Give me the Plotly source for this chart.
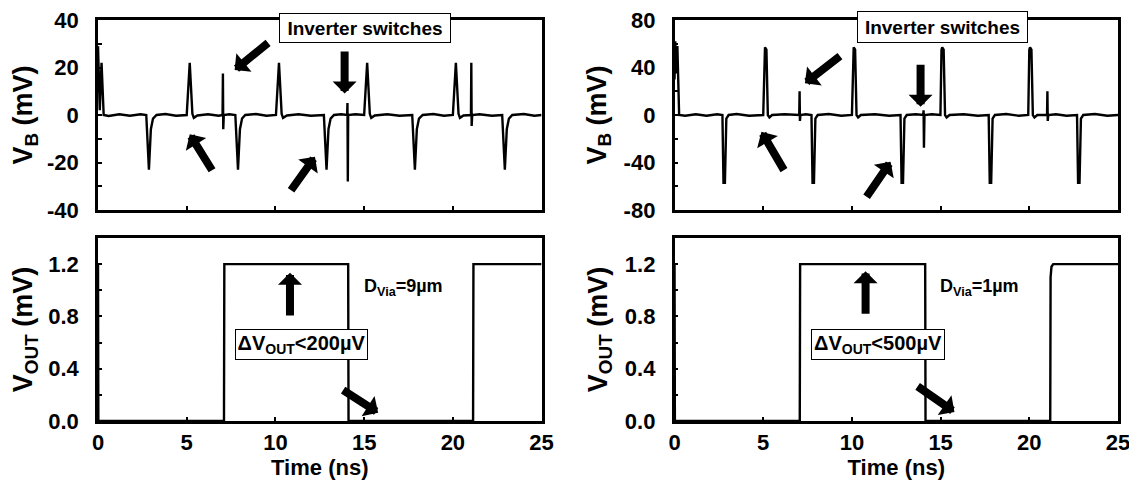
import plotly.graph_objects as go

# ---------------- data ----------------
# Left column (D_Via = 9 um): substrate noise V_B (mV) vs time (ns)
t_vb_left = [0, 0.1, 0.2, 0.32, 0.6, 1.2, 1.8, 2.4,
             2.72, 2.87, 2.98, 3.1, 3.3, 3.8, 4.4,
             5.0, 5.17, 5.32, 5.4, 5.6, 6.2, 6.8,
             7.02, 7.04, 7.06, 7.09, 7.4,
             7.74, 7.89, 8.0, 8.12, 8.3, 8.9, 9.5,
             10.03, 10.2, 10.35, 10.43, 10.65, 11.3, 12.0,
             12.73, 12.88, 12.99, 13.11, 13.3, 13.7,
             14.04, 14.06, 14.08, 14.1, 14.5,
             15.0, 15.17, 15.32, 15.4, 15.6, 16.3, 17.0,
             17.71, 17.86, 17.97, 18.09, 18.3, 18.9, 19.5,
             20.0, 20.17, 20.32, 20.4, 20.6,
             21.02, 21.04, 21.06, 21.09, 21.5, 22.2,
             22.78, 22.93, 23.04, 23.16, 23.35, 24.0, 24.6, 25.0]
v_vb_left = [29, 2, 22, 0, -0.4, 0.3, -0.3, 0.3,
             0, -23, -6, -1.5, 0, 0.4, -0.3,
             0, 22, 0.5, -1.2, -0.2, 0.3, -0.3,
             0, 17.5, -6, 0, 0.3,
             0, -23, -6, -1.5, 0, 0.4, -0.3,
             0, 22, 0.5, -1.2, -0.2, 0.3, -0.3,
             0, -23, -6, -1.5, 0, 0.3,
             0, 5, -28, 0, 0.3,
             0, 22, 0.5, -1.2, -0.2, 0.3, -0.3,
             0, -23, -6, -1.5, 0, 0.4, -0.3,
             0, 22, 0.5, -1.2, -0.2,
             0, 22, -4.6, 0, 0.3, -0.3,
             0, -23, -6, -1.5, 0, 0.4, -0.3, 0]

# Right column (D_Via = 1 um)
t_vb_right = [0, 0.04, 0.1, 0.16, 0.26, 0.6, 1.2, 1.8, 2.4,
              2.7, 2.76, 2.84, 2.92, 3.05, 3.5, 4.2,
              5.0, 5.06, 5.1, 5.18, 5.26, 5.35, 5.5, 6.2,
              7.03, 7.05, 7.07, 7.1, 7.4,
              7.72, 7.78, 7.86, 7.94, 8.07, 8.7, 9.4,
              10.0, 10.06, 10.1, 10.18, 10.26, 10.35, 10.5, 11.3, 12.1,
              12.74, 12.8, 12.88, 12.96, 13.09, 13.6,
              14.02, 14.04, 14.06, 14.09, 14.5,
              14.99, 15.05, 15.09, 15.17, 15.25, 15.34, 15.5, 16.3, 17.1,
              17.71, 17.77, 17.85, 17.93, 18.06, 18.7, 19.4,
              19.94, 20.0, 20.04, 20.12, 20.2, 20.29, 20.45,
              21.0, 21.02, 21.04, 21.07, 21.5, 22.1,
              22.69, 22.75, 22.83, 22.91, 23.04, 23.7, 24.4, 25.0]
v_vb_right = [30, 62, 35, 58, 0, -0.6, 0.6, -0.6, 0.6,
              0, -57, -57, -3, 0, 0.8, -0.6,
              0, 55, 57, 55, 0, -2, 0, 0.6,
              0, 20, -5, 0, 0.6,
              0, -57, -57, -3, 0, 0.8, -0.6,
              0, 55, 57, 55, 0, -2, 0, 0.6, -0.6,
              0, -57, -57, -3, 0, 0.6,
              0, 4, -27.5, 0, 0.6,
              0, 55, 57, 55, 0, -2, 0, 0.6, -0.6,
              0, -57, -57, -3, 0, 0.8, -0.6,
              0, 55, 57, 55, 0, -2, 0,
              0, 20, -5, 0, 0.6, -0.6,
              0, -57, -57, -3, 0, 0.8, -0.6, 0]

# Output voltage V_OUT (mV) vs time (ns)
t_out_left = [0, 0.02, 7.1, 7.12, 14.1, 14.12, 21.14, 21.16, 25.0]
v_out_left = [1.2, 0, 0, 1.2, 1.2, 0, 0, 1.2, 1.2]
t_out_right = [0, 0.02, 7.06, 7.08, 14.13, 14.15, 21.18, 21.2, 21.25, 21.35, 25.0]
v_out_right = [1.2, 0, 0, 1.2, 1.2, 0, 0, 1.1, 1.18, 1.2, 1.2]

# tick labels
x_ticks = [0, 5, 10, 15, 20, 25]
x_ticktext = ["0", "5", "10", "15", "20", "25"]
vb_left_ticks = [-40, -20, 0, 20, 40]
vb_left_ticktext = ["-40", "-20", "0", "20", "40"]
vb_right_ticks = [-80, -40, 0, 40, 80]
vb_right_ticktext = ["-80", "-40", "0", "40", "80"]
out_ticks = [0, 0.4, 0.8, 1.2]
out_ticktext = ["0.0", "0.4", "0.8", "1.2"]

# ---------------- figure ----------------
FONT = "Liberation Sans"
line = dict(color="black", width=2.4)

fig = go.Figure()
fig.add_trace(go.Scatter(x=t_vb_left, y=v_vb_left, mode="lines", line=line, xaxis="x", yaxis="y"))
fig.add_trace(go.Scatter(x=t_out_left, y=v_out_left, mode="lines", line=line, xaxis="x2", yaxis="y2"))
fig.add_trace(go.Scatter(x=t_vb_right, y=v_vb_right, mode="lines", line=line, xaxis="x3", yaxis="y3"))
fig.add_trace(go.Scatter(x=t_out_right, y=v_out_right, mode="lines", line=line, xaxis="x4", yaxis="y4"))

W, H = 1137, 482
OFF = 8  # page body margin
ML = 98 - OFF
MT = 20 - OFF
MB = H - (421 - OFF)
MR = W - (1118.3 - OFF)
PW, PH = W - ML - MR, H - MT - MB

def fx(px):
    return (px - OFF - ML) / PW

def fy(py):
    return (H - MB - (py - OFF)) / PH

dom_left = [0, fx(541.7)]
dom_right = [fx(674.7), 1]
dom_top = [fy(210), 1]
dom_bot = [0, fy(238)]

tickfont = dict(family=FONT, size=22, color="black", weight="bold")
xtitlefont = dict(family=FONT, size=22, color="black", weight="bold")
ytitlefont = dict(family=FONT, size=27, color="black", weight="bold")

def xax(domain, anchor, labels):
    d = dict(domain=domain, anchor=anchor, range=[0, 25], tickvals=x_ticks, ticktext=x_ticktext,
             ticks="inside", ticklen=4, tickwidth=1.5, tickcolor="black",
             showline=True, linewidth=2.5, linecolor="black", mirror=True,
             showgrid=False, zeroline=False, showticklabels=labels, tickfont=tickfont,
             ticklabelstandoff=0, ticklabeloverflow="allow")
    if labels:
        d["title"] = dict(text="Time (ns)", font=xtitlefont, standoff=0)
    return d

def yax(domain, anchor, rng, tv, tt, minor, title):
    return dict(domain=domain, anchor=anchor, range=rng, tickvals=tv, ticktext=tt,
                ticks="inside", ticklen=4, tickwidth=1.5, tickcolor="black",
                minor=dict(dtick=minor, tick0=0, ticks="inside", ticklen=4, tickwidth=1.5, tickcolor="black"),
                showline=True, linewidth=2.5, linecolor="black", mirror=True,
                showgrid=False, zeroline=False, tickfont=tickfont, ticklabelstandoff=12,
                ticklabeloverflow="allow",
                title=dict(text=title, font=ytitlefont, standoff=10))

fig.update_layout(
    width=W, height=H, margin=dict(l=ML, r=MR, t=MT, b=MB, autoexpand=False),
    paper_bgcolor="white", plot_bgcolor="white", showlegend=False,
    xaxis=xax(dom_left, "y", False),
    yaxis=yax(dom_top, "x", [-40, 40], vb_left_ticks, vb_left_ticktext, 10, "V<sub>B</sub> (mV)"),
    xaxis2=xax(dom_left, "y2", True),
    yaxis2=yax(dom_bot, "x2", [0, 1.4], out_ticks, out_ticktext, 0.2, "V<sub>OUT</sub> (mV)"),
    xaxis3=xax(dom_right, "y3", False),
    yaxis3=yax(dom_top, "x3", [-80, 80], vb_right_ticks, vb_right_ticktext, 20, "V<sub>B</sub> (mV)"),
    xaxis4=xax(dom_right, "y4", True),
    yaxis4=yax(dom_bot, "x4", [0, 1.4], out_ticks, out_ticktext, 0.2, "V<sub>OUT</sub> (mV)"),
)

def afont(size):
    return dict(family=FONT, size=size, color="black", weight="bold")

def box(xr, yr, x, y, text, w, h, size):
    fig.add_annotation(xref=xr, yref=yr, x=x, y=y, text=text, showarrow=False, font=afont(size),
                       bgcolor="white", bordercolor="black", borderwidth=1, borderpad=2,
                       width=w - 6, height=h - 6, align="center", valign="middle")

def label(xr, yr, x, y, text):
    fig.add_annotation(xref=xr, yref=yr, x=x, y=y, text=text, showarrow=False, font=afont(18))

def arrow(xr, yr, x0, y0, x1, y1):
    fig.add_annotation(xref=xr, yref=yr, axref=xr, ayref=yr, x=x1, y=y1, ax=x0, ay=y0, text="",
                       showarrow=True, arrowhead=1, arrowwidth=8, arrowsize=0.5, arrowcolor="black",
                       standoff=0, startstandoff=0)

# left top
box("x", "y", 15.04, 36.8, "Inverter switches", 172, 30, 19)
box("x", "y", 8.42, -44.2, "TSV switches", 139, 30, 18)
arrow("x", "y", 9.67, 30.9, 7.7, 18.9)
arrow("x", "y", 13.9, 27.4, 13.9, 9.1)
arrow("x", "y", 6.48, -23.9, 5.17, -8.1)
arrow("x", "y", 10.82, -32.3, 12.23, -17.6)
# left bottom
label("x2", "y2", 17.2, 1.02, "D<sub>Via</sub>=9µm")
box("x2", "y2", 11.48, 0.585, "ΔV<sub>OUT</sub>&lt;200µV", 133, 31, 20)
arrow("x2", "y2", 10.82, 0.795, 10.82, 1.135)
arrow("x2", "y2", 13.73, 0.243, 15.79, 0.064)
# right top
box("x3", "y3", 15.12, 73.7, "Inverter switches", 171, 32, 19)
box("x3", "y3", 8.4, -89.5, "TSV switches", 137, 31, 18)
arrow("x3", "y3", 9.41, 50.5, 7.35, 26.7)
arrow("x3", "y3", 13.87, 43.5, 13.87, 7.0)
arrow("x3", "y3", 6.22, -47.7, 4.9, -14.1)
arrow("x3", "y3", 10.77, -70.2, 12.18, -39.3)
# right bottom
label("x4", "y4", 17.2, 1.02, "D<sub>Via</sub>=1µm")
box("x4", "y4", 11.45, 0.585, "ΔV<sub>OUT</sub>&lt;500µV", 134, 31, 20)
arrow("x4", "y4", 10.77, 0.809, 10.77, 1.146)
arrow("x4", "y4", 13.62, 0.273, 15.78, 0.069)

fig.write_html("out.html")
